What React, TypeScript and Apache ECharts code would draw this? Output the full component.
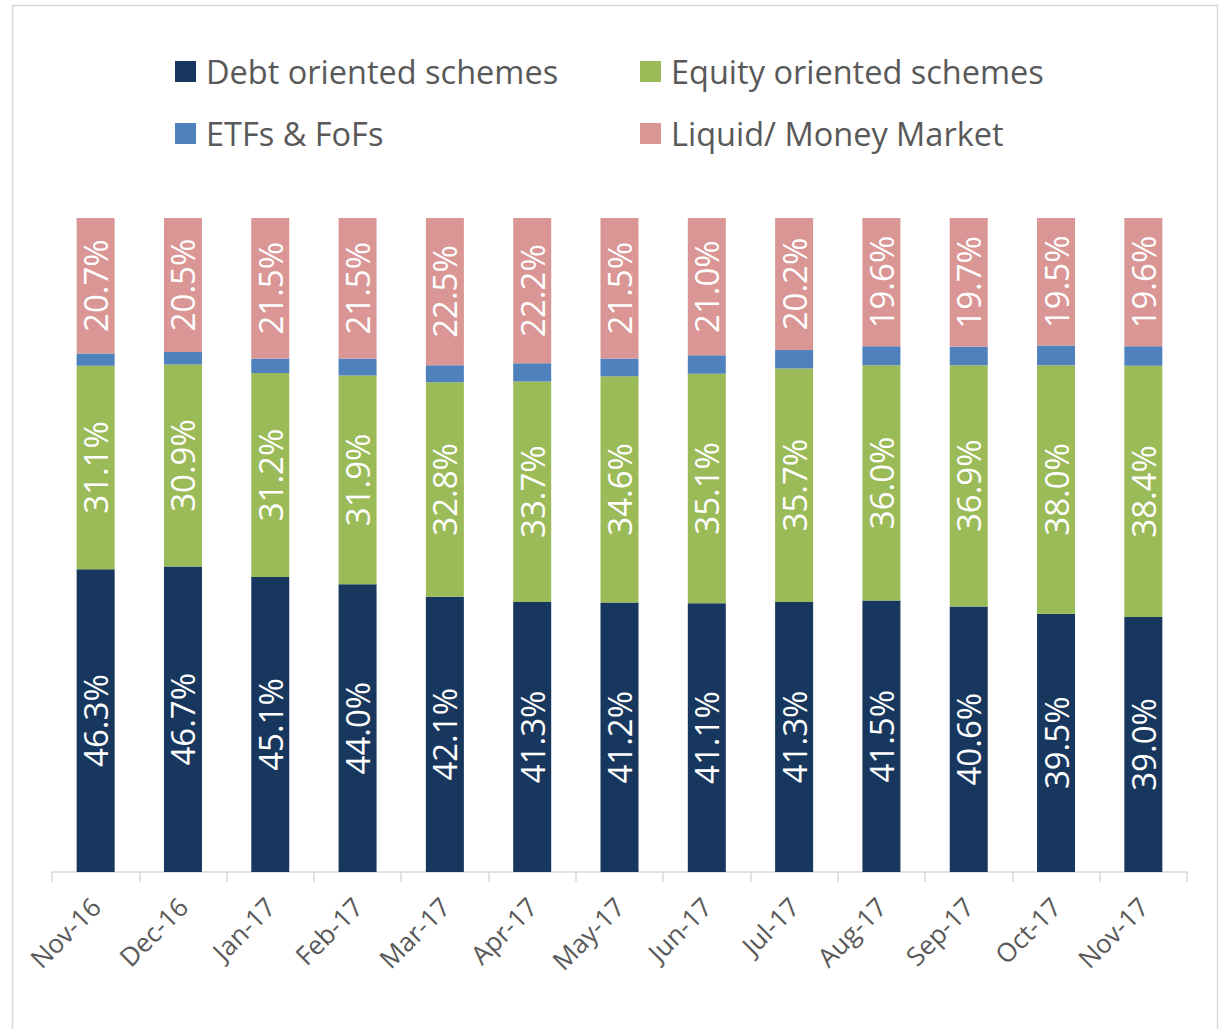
import React, { useEffect, useRef } from "react";
import * as echarts from "echarts";

const categories = ["Nov-16", "Dec-16", "Jan-17", "Feb-17", "Mar-17", "Apr-17", "May-17", "Jun-17", "Jul-17", "Aug-17", "Sep-17", "Oct-17", "Nov-17"];
const debt = [46.3, 46.7, 45.1, 44.0, 42.1, 41.3, 41.2, 41.1, 41.3, 41.5, 40.6, 39.5, 39.0];
const equity = [31.1, 30.9, 31.2, 31.9, 32.8, 33.7, 34.6, 35.1, 35.7, 36.0, 36.9, 38.0, 38.4];
const etfs = [1.9, 1.9, 2.2, 2.6, 2.6, 2.8, 2.7, 2.8, 2.8, 2.9, 2.8, 3.0, 3.0];
const liquid = [20.7, 20.5, 21.5, 21.5, 22.5, 22.2, 21.5, 21.0, 20.2, 19.6, 19.7, 19.5, 19.6];

const FONT = "'Open Sans', Lato, sans-serif";
const TXT = "#595959";

export default function App() {
  const ref = useRef<HTMLDivElement>(null);
  useEffect(() => {
    const chart = echarts.init(ref.current!, null, { renderer: "svg" });
    const label = (show: boolean) => ({
      show,
      position: "inside",
      rotate: 90,
      color: "#ffffff",
      fontSize: 33,
      fontFamily: FONT,
      formatter: (p: any) => p.value.toFixed(1) + "%",
    });
    const mk = (name: string, data: number[], color: string, showLabel: boolean) => ({
      name,
      type: "bar",
      stack: "total",
      data,
      barWidth: 38,
      itemStyle: { color },
      label: label(showLabel),
    });
    const legendText = { fontSize: 32.5, color: TXT, fontFamily: FONT, padding: [0, 0, 0, 5] };
    const legendBase = {
      orient: "vertical",
      top: 50,
      itemWidth: 21,
      itemHeight: 21,
      itemGap: 29,
      icon: "rect",
      textStyle: legendText,
    };
    chart.setOption({
      animation: false,
      textStyle: { fontFamily: FONT },
      graphic: [
        {
          type: "rect",
          shape: { x: 12.5, y: 5.5, width: 1205, height: 1040 },
          style: { fill: "none", stroke: "#d9d9d9", lineWidth: 1.5 },
          silent: true,
        },
      ],
      legend: [
        { ...legendBase, data: ["Debt oriented schemes", "ETFs & FoFs"], left: 170 },
        { ...legendBase, data: ["Equity oriented schemes", "Liquid/ Money Market"], left: 635 },
      ],
      grid: { left: 52, right: 33, top: 218, bottom: 157, containLabel: false },
      xAxis: {
        type: "category",
        data: categories,
        axisLine: { lineStyle: { color: "#d9d9d9", width: 1.5 } },
        axisTick: { show: true, length: 10, lineStyle: { color: "#d9d9d9", width: 1.5 } },
        axisLabel: { rotate: 45, fontSize: 26, color: TXT, fontFamily: FONT, margin: 30 },
      },
      yAxis: { type: "value", min: 0, max: 100, show: false, splitLine: { show: false } },
      series: [
        mk("Debt oriented schemes", debt, "#17375E", true),
        mk("Equity oriented schemes", equity, "#9BBB59", true),
        mk("ETFs & FoFs", etfs, "#4F81BD", false),
        mk("Liquid/ Money Market", liquid, "#D99694", true),
      ],
    });
    return () => chart.dispose();
  }, []);
  return (
    <div
      ref={ref}
      style={{ position: "absolute", left: 0, top: 0, width: 1220, height: 1029 }}
    />
  );
}
